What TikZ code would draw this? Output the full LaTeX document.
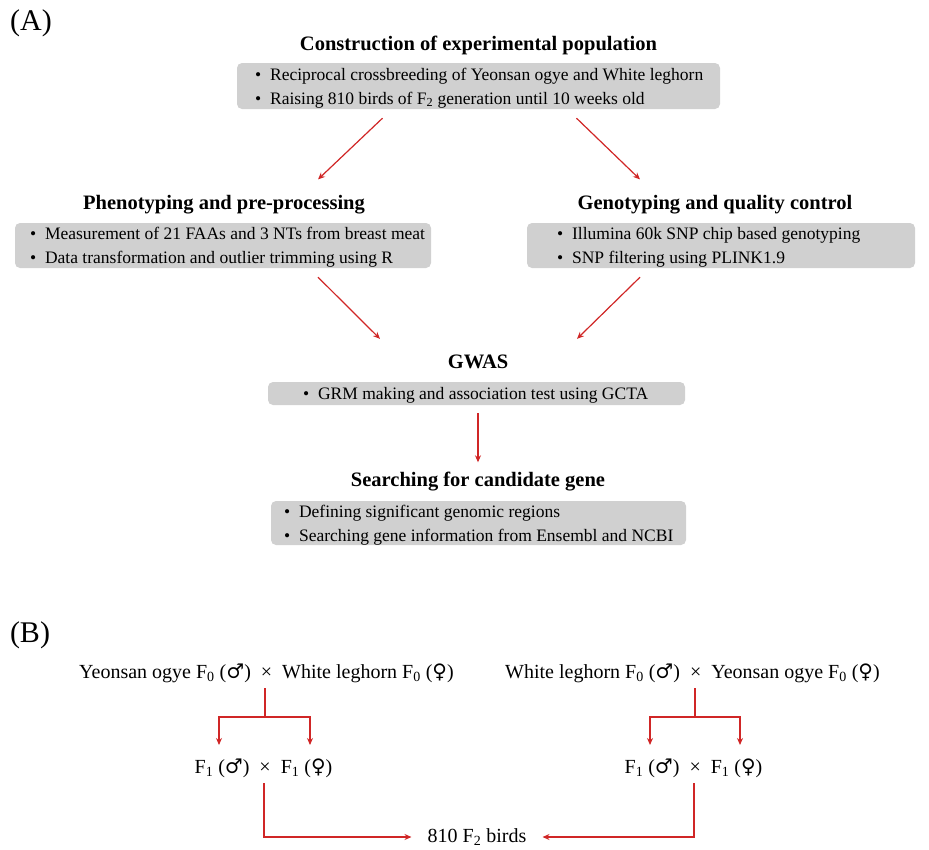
\documentclass[tikz,border=0pt]{standalone}
\usepackage{fontspec}
\setmainfont{Liberation Serif}
\newfontfamily\symf{DejaVu Serif}
\usetikzlibrary{calc,arrows.meta}
\definecolor{boxgray}{HTML}{D0D0D0}
\definecolor{arrred}{HTML}{D02626}
\begin{document}
\begin{tikzpicture}[x=1pt,y=-1pt,
  ttl/.style={font=\fontsize{20.5}{24}\selectfont\bfseries, inner sep=0pt},
  gbox/.style={fill=boxgray, rounded corners=5pt, inner sep=0pt},
  btext/.style={font=\fontsize{17.5}{24}\selectfont, align=left, anchor=west, inner sep=0pt},
  arr/.style={draw=arrred, line width=1.2pt, -{Stealth[length=7pt,width=6pt]}},
  rline/.style={draw=arrred, line width=1.4pt},
  rarr/.style={draw=arrred, line width=1.4pt, -{Stealth[length=7pt,width=6pt]}},
  lbl/.style={font=\fontsize{30}{34}\selectfont, inner sep=0pt},
  btxt/.style={font=\fontsize{20}{24}\selectfont, inner sep=0pt}]
\useasboundingbox (0,0) rectangle (929,849);
% (A)
\node[lbl] (la) at (31,23) {(A)};
\node[ttl] (t1) at (478.5,45) {Construction of experimental population};
\node[gbox, minimum width=483pt, minimum height=46pt] (b1) at (478.5,86) {};
\node[btext] (b1t) at (255,88) {\textbullet\enspace Reciprocal crossbreeding of Yeonsan ogye and White leghorn\\\textbullet\enspace Raising 810 birds of F\textsubscript{2} generation until 10 weeks old};

\node[ttl] (t2) at (224,205) {Phenotyping and pre-processing};
\node[gbox, minimum width=416pt, minimum height=45pt] (b2) at (223,245.5) {};
\node[btext] (b2t) at (30,247.5) {\textbullet\enspace Measurement of 21 FAAs and 3 NTs from breast meat\\\textbullet\enspace Data transformation and outlier trimming using R};

\node[ttl] (t3) at (715,205) {Genotyping and quality control};
\node[gbox, minimum width=388pt, minimum height=45pt] (b3) at (721,245.5) {};
\node[btext] (b3t) at (557,247.5) {\textbullet\enspace Illumina 60k SNP chip based genotyping\\\textbullet\enspace SNP filtering using PLINK1.9};

\node[ttl] (t4) at (478,362) {GWAS};
\node[gbox, minimum width=417pt, minimum height=23pt] (b4) at (476.5,393.5) {};
\node[btext] (b4t) at (303,395) {\textbullet\enspace GRM making and association test using GCTA};

\node[ttl] (t5) at (478,482) {Searching for candidate gene};
\node[gbox, minimum width=415pt, minimum height=44pt] (b5) at (478.5,523) {};
\node[btext] (b5t) at (284,525) {\textbullet\enspace Defining significant genomic regions\\\textbullet\enspace Searching gene information from Ensembl and NCBI};

\draw[arr] ($(b1.south)+(-96,9)$) -- ($(t2.north)+(94,-16)$);
\draw[arr] ($(b1.south)+(98,9)$) -- ($(t3.north)+(-75,-16)$);
\draw[arr] ($(b2.south)+(95,9)$) -- ($(t4.north)+(-98,-16)$);
\draw[arr] ($(b3.south)+(-81,9)$) -- ($(t4.north)+(99,-16)$);
\draw[arr] ($(b4.south)+(1.5,8)$) -- ($(t5.north)+(0,-10)$);

% (B)
\node[lbl] (lb) at (30,635) {(B)};
\node[btxt] (p1) at (266.5,673) {Yeonsan ogye F\textsubscript{0} ({\symf ♂})\enspace×\enspace White leghorn F\textsubscript{0} ({\symf ♀})};
\node[btxt] (p2) at (692.5,673) {White leghorn F\textsubscript{0} ({\symf ♂})\enspace×\enspace Yeonsan ogye F\textsubscript{0} ({\symf ♀})};
\node[btxt] (q1) at (263.5,768) {F\textsubscript{1} ({\symf ♂})\enspace×\enspace F\textsubscript{1} ({\symf ♀})};
\node[btxt] (q2) at (693.5,768) {F\textsubscript{1} ({\symf ♂})\enspace×\enspace F\textsubscript{1} ({\symf ♀})};
\node[btxt] (r) at (477,837) {810 F\textsubscript{2} birds};

\coordinate (s1) at (265,688);
\coordinate (j1) at (265,717);
\coordinate (s2) at (695,688);
\coordinate (j2) at (695,717);
\coordinate (e1) at ($(r.west)+(-16,0)$);
\coordinate (e2) at ($(r.east)+(16,0)$);
\draw[rline] (s1) -- (j1);
\draw[rarr] (j1) -| (219,745);
\draw[rarr] (j1) -| (310,745);
\draw[rline] (s2) -- (j2);
\draw[rarr] (j2) -| (650,745);
\draw[rarr] (j2) -| (740,745);
\draw[rarr] (264,783) |- (e1);
\draw[rarr] (694,783) |- (e2);
\end{tikzpicture}
\end{document}
